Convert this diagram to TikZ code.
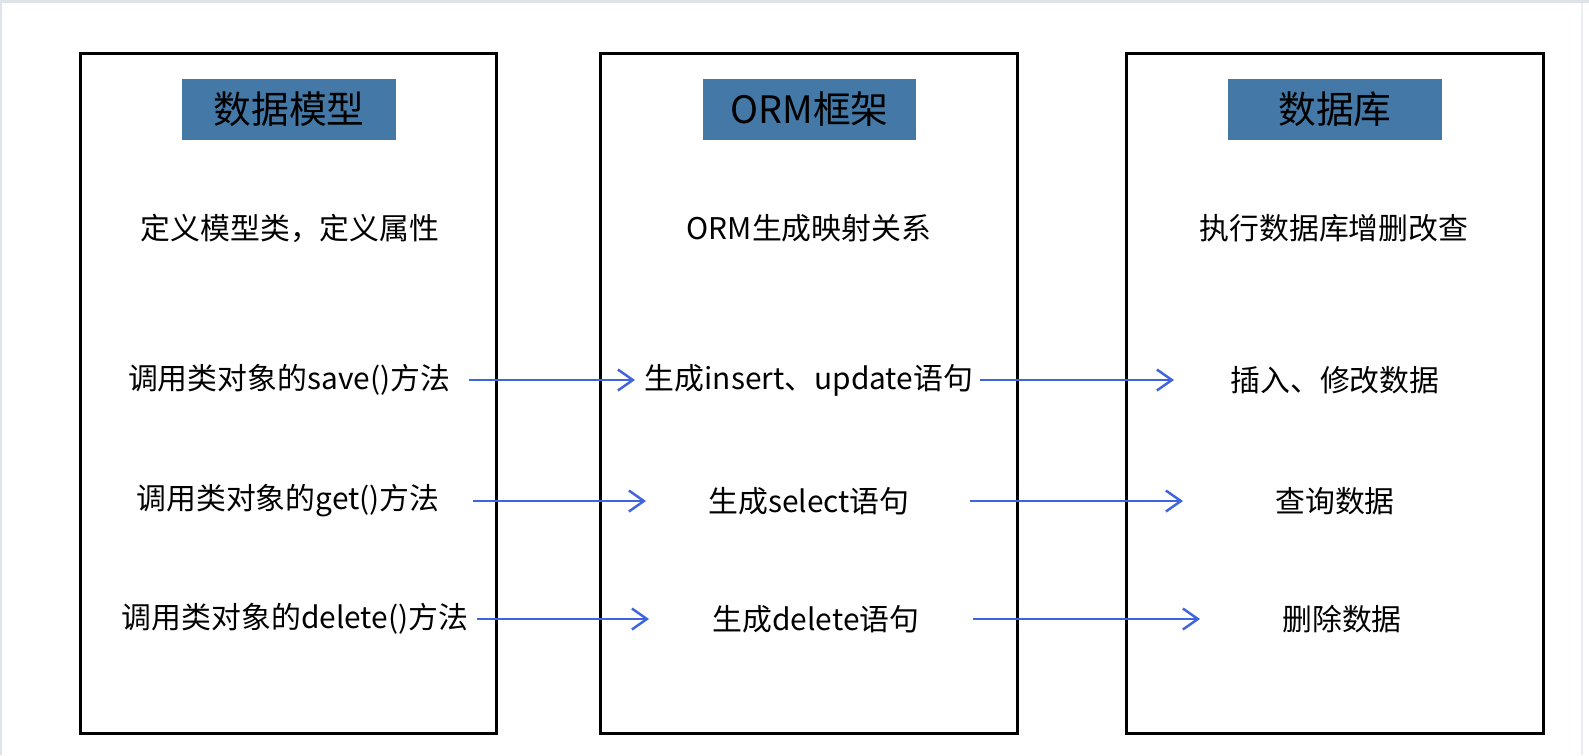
\documentclass[tikz,border=0pt]{standalone}
\usepackage{fontspec}
\setmainfont{Noto Sans CJK SC}
\usetikzlibrary{arrows.meta}
\definecolor{titleblue}{RGB}{68,121,167}
\definecolor{flowblue}{RGB}{64,100,222}
\definecolor{edgegray}{RGB}{222,227,233}
\tikzset{
  panel/.style={draw=black,line width=1.7pt,minimum width=8.34cm,minimum height=13.62cm,inner sep=0pt},
  head/.style={fill=titleblue,minimum width=4.28cm,minimum height=1.22cm,inner sep=0pt,font=\fontsize{21.5}{24}\selectfont},
  item/.style={inner sep=0pt,font=\fontsize{17}{20}\selectfont},
  flow/.style={flowblue,line width=1.4pt,-{Straight Barb[length=0.3cm,width=0.42cm]}},
}

\begin{document}
\begin{tikzpicture}[x=0.02cm,y=-0.02cm]
  \useasboundingbox (0,0) rectangle (1589,755);
  % screen edge
  \fill[edgegray] (0,0) rectangle (1589,3);
  \fill[edgegray] (0,0) rectangle (2,755);
  \draw[edgegray!60,line width=0.6pt] (1582,3) -- (1582,755);

  % three columns
  \node[panel] (model) at (288.5,393.5) {};
  \node[panel] (orm) at (809,393.5) {};
  \node[panel] (db) at (1335,393.5) {};

  \node[head] (modelhead) at (289,109.5) {数据模型};
  \node[head] (ormhead) at (809.5,109.5) {ORM框架};
  \node[head] (dbhead) at (1335,109.5) {数据库};

  \node[item] (modeldesc) at (290,228) {定义模型类，定义属性};
  \node[item] (ormdesc) at (809,228) {ORM生成映射关系};
  \node[item] (dbdesc) at (1334,228) {执行数据库增删改查};

  \node[item] (save) at (289,380) {调用类对象的save()方法};
  \node[item] (insert) at (809,380) {生成insert、update语句};
  \node[item] (doinsert) at (1335,380) {插入、修改数据};

  \node[item] (get) at (288,501) {调用类对象的get()方法};
  \node[item] (select) at (809,501) {生成select语句};
  \node[item] (doselect) at (1335,501) {查询数据};

  \node[item] (delete) at (295,619) {调用类对象的delete()方法};
  \node[item] (sqldelete) at (816,619) {生成delete语句};
  \node[item] (dodelete) at (1342,619) {删除数据};

  % calls passed along
  \draw[flow,shorten <=3.6cm,shorten >=3.48cm] (save.center) -- (insert.center);
  \draw[flow,shorten <=3.42cm,shorten >=3.22cm] (insert.center) -- (doinsert.center);
  \draw[flow,shorten <=3.7cm,shorten >=3.26cm] (get.center) -- (select.center);
  \draw[flow,shorten <=3.22cm,shorten >=3.04cm] (select.center) -- (doselect.center);
  \draw[flow,shorten <=3.64cm,shorten >=3.34cm] (delete.center) -- (sqldelete.center);
  \draw[flow,shorten <=3.14cm,shorten >=2.84cm] (sqldelete.center) -- (dodelete.center);
\end{tikzpicture}
\end{document}
